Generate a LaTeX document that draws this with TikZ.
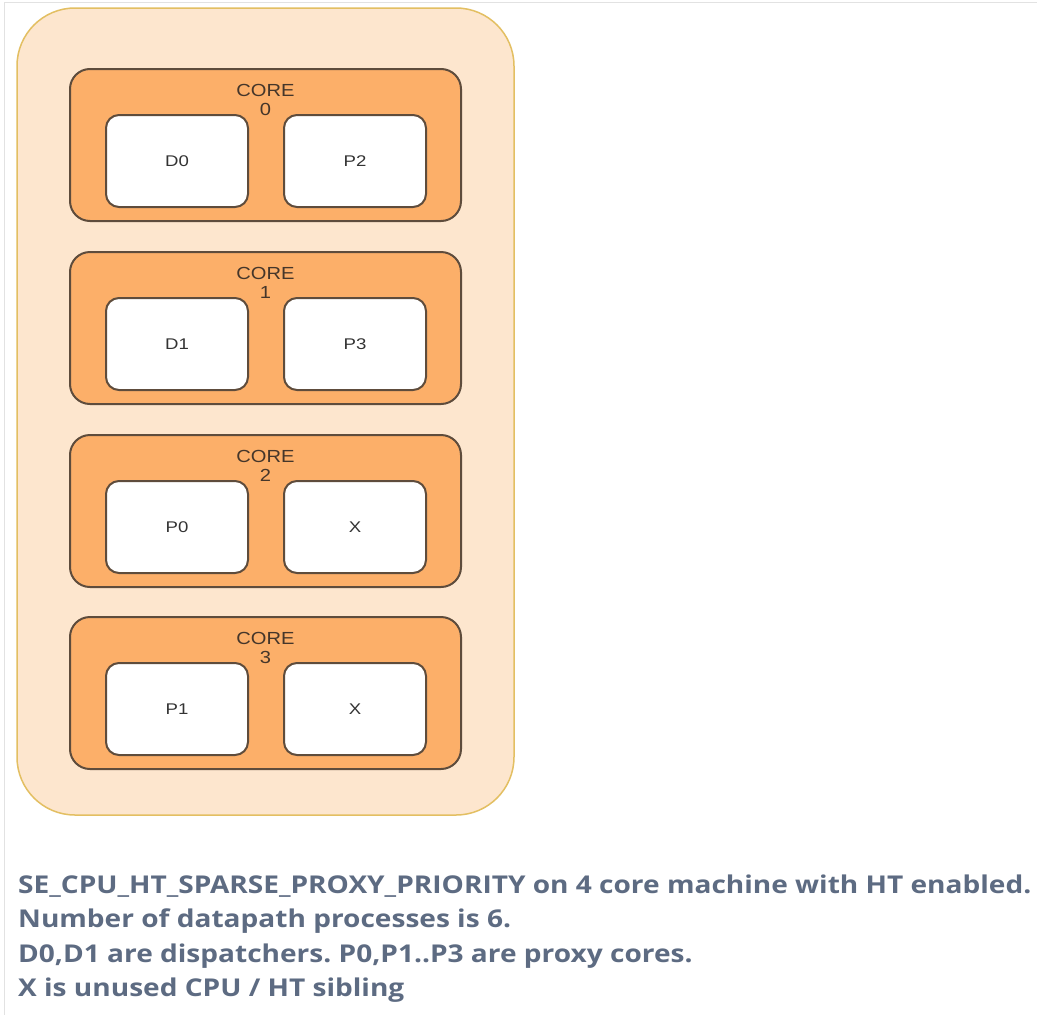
\documentclass[tikz,border=0pt]{standalone}
\usepackage{fontspec}
\setmainfont{Liberation Sans}
\newfontfamily\capfont{Open Sans}
\frenchspacing
\definecolor{outerfill}{HTML}{FDE6CE}
\definecolor{outerdraw}{HTML}{E3BF62}
\definecolor{corefill}{HTML}{FCAF69}
\definecolor{coredraw}{HTML}{5E4C3C}
\definecolor{captxt}{HTML}{5D6B82}
\definecolor{boxtxt}{HTML}{333333}
\definecolor{coretxt}{HTML}{45362A}
\definecolor{framecol}{HTML}{E2E2E2}
\newcommand{\wide}[2]{\scalebox{#1}[1]{#2}}
\tikzset{
  outerbox/.style={draw=outerdraw, line width=1.5pt, fill=outerfill, rounded corners=58pt},
  corebox/.style={draw=coredraw, line width=2pt, fill=corefill, rounded corners=20pt},
  cpubox/.style={draw=coredraw, line width=2pt, fill=white, rounded corners=13pt, minimum width=142pt, minimum height=92pt, inner sep=0pt, font=\fontsize{15.5}{17}\selectfont, text=boxtxt},
  corelabel/.style={font=\fontsize{17.5}{20}\selectfont, text=coretxt, align=center, inner sep=0pt},
  caption/.style={anchor=base west, inner sep=0pt, text=captxt, font=\capfont\bfseries\fontsize{24.5}{28}\selectfont}
}
\begin{document}
\begin{tikzpicture}[x=1pt,y=-1pt]
\useasboundingbox (0,0) rectangle (1037,1015);
\fill[white] (0,0) rectangle (1037,1015);
\draw[framecol, line width=1pt] (4.5,1015) -- (4.5,2.5) -- (1037,2.5);
\draw[outerbox] (17,8) rectangle (514,815);
\foreach \n/\top/\a/\b in {0/69/D0/P2, 1/252/D1/P3, 2/435/P0/X, 3/617/P1/X} {
  \draw[corebox] (70,\top) rectangle (461,\top+152);
  \node[corelabel] (core\n) at (265.5,\top+31) {\wide{1.15}{CORE}\\[-1.5pt]\wide{1.15}{\n}};
  \node[cpubox] (l\n) at (177,\top+92) {\wide{1.2}{\a}};
  \node[cpubox] (r\n) at (355,\top+92) {\wide{1.2}{\b}};
}
\node[caption] (c1) at (18,893) {\wide{1.145}{SE\_CPU\_HT\_SPARSE\_PROXY\_PRIORITY on 4 core machine with HT enabled.}};
\node[caption] (c2) at (18,927.5) {\wide{1.145}{Number of datapath processes is 6.}};
\node[caption] (c3) at (18,962) {\wide{1.145}{D0,D1 are dispatchers. P0,P1..P3 are proxy cores.}};
\node[caption] (c4) at (18,996.5) {\wide{1.145}{X is unused CPU / HT sibling}};
\end{tikzpicture}
\end{document}
